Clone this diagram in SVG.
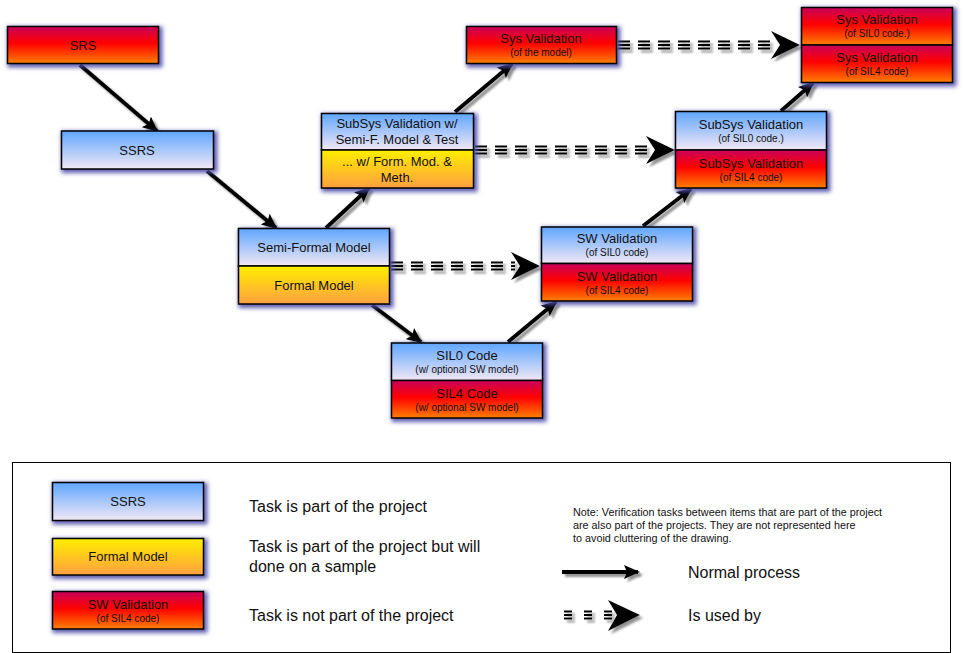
<svg xmlns="http://www.w3.org/2000/svg" width="963" height="653" viewBox="0 0 963 653">
<defs>
<linearGradient id="gBlue" x1="0" y1="0" x2="0" y2="1">
<stop offset="0" stop-color="#5fa6ff"/><stop offset="1" stop-color="#f2e8f4"/>
</linearGradient>
<linearGradient id="gYel" x1="0" y1="0" x2="0" y2="1">
<stop offset="0" stop-color="#ffee00"/><stop offset="1" stop-color="#ffa040"/>
</linearGradient>
<linearGradient id="gRed" x1="0" y1="0" x2="0" y2="1">
<stop offset="0" stop-color="#c8005a"/><stop offset="0.45" stop-color="#ff0000"/><stop offset="1" stop-color="#ff8000"/>
</linearGradient>
<filter id="glow" x="-20%" y="-40%" width="140%" height="180%">
<feMorphology in="SourceAlpha" operator="dilate" radius="2" result="d"/>
<feGaussianBlur in="d" stdDeviation="2" result="b"/>
<feOffset in="b" dx="2" dy="2" result="o"/>
<feFlood flood-color="#4c4ca8" flood-opacity="0.9"/>
<feComposite in2="o" operator="in"/>
</filter>
<filter id="shadow" x="-10%" y="-30%" width="120%" height="160%">
<feDropShadow dx="3" dy="3" stdDeviation="1.2" flood-color="#777" flood-opacity="0.8"/>
</filter>
<marker id="ah" markerUnits="userSpaceOnUse" markerWidth="16" markerHeight="14" refX="14" refY="7" orient="auto">
<path d="M0,0 L16,7 L0,14 L3,7 Z" fill="#000"/>
</marker>
<path id="bigHead" d="M0,0 L-29,-14 L-20,0 L-29,14 Z"/>
<style>
.box{stroke:#000;stroke-width:1.5}
.blue{fill:url(#gBlue)}
.yel{fill:url(#gYel)}
.red{fill:url(#gRed)}
.glowbg{fill:#000;filter:url(#glow)}
text{font-family:"Liberation Sans",Arial,sans-serif;fill:#111;text-anchor:middle}
.t{font-size:13px}
.s{font-size:10px}
.lg{font-size:16px;text-anchor:start}
.note{font-size:10.8px;text-anchor:start}
.sol{stroke:#000;stroke-width:4;fill:none;marker-end:url(#ah)}
.dsh{stroke:#000;stroke-width:2;stroke-dasharray:12 8;fill:none}
</style>
</defs>
<rect width="963" height="653" fill="#fff"/>

<g id="connectors" filter="url(#shadow)">
<line class="sol" x1="80" y1="65" x2="157" y2="131"/>
<line class="sol" x1="207" y1="171" x2="276" y2="228"/>
<line class="sol" x1="326" y1="228" x2="369" y2="188"/>
<line class="sol" x1="455" y1="112" x2="512" y2="64"/>
<line class="sol" x1="372" y1="305" x2="421" y2="342"/>
<line class="sol" x1="508" y1="342" x2="556" y2="302"/>
<line class="sol" x1="643" y1="226" x2="691" y2="189"/>
<line class="sol" x1="781" y1="111" x2="813" y2="83"/>
<g id="dash1">
<path class="dsh" d="M618,41.5 H775 M618,45 H775 M618,48.5 H775"/>
<use href="#bigHead" transform="translate(800,45)"/>
</g>
<g id="dash2">
<path class="dsh" d="M475,146.5 H652 M475,150 H652 M475,153.5 H652"/>
<use href="#bigHead" transform="translate(675,150)"/>
</g>
<g id="dash3">
<path class="dsh" d="M391,262.5 H515 M391,266 H515 M391,269.5 H515"/>
<use href="#bigHead" transform="translate(540,266)"/>
</g>
</g>

<g id="srs">
<rect class="glowbg" x="7.5" y="26.5" width="151" height="37"/>
<rect class="box red" x="7.5" y="26.5" width="151" height="37"/>
<text class="t" x="83" y="50">SRS</text>
</g>
<g id="ssrs">
<rect class="glowbg" x="61.5" y="131" width="152" height="38"/>
<rect class="box blue" x="61.5" y="131" width="152" height="38"/>
<text class="t" x="137" y="155">SSRS</text>
</g>
<g id="model">
<rect class="glowbg" x="238.5" y="228.5" width="151" height="75.5"/>
<rect class="box blue" x="238.5" y="228.5" width="151" height="37.5"/>
<rect class="box yel" x="238.5" y="266" width="151" height="38"/>
<text class="t" x="314" y="252">Semi-Formal Model</text>
<text class="t" x="314" y="290">Formal Model</text>
</g>
<g id="subsysw">
<rect class="glowbg" x="321.5" y="113.5" width="152" height="74.5"/>
<rect class="box blue" x="321.5" y="113.5" width="152" height="36.5"/>
<rect class="box yel" x="321.5" y="150" width="152" height="38"/>
<text class="t" x="397" y="128">SubSys Validation w/</text>
<text class="t" x="397" y="144">Semi-F. Model &amp; Test</text>
<text class="t" x="397" y="166">... w/ Form. Mod. &amp;</text>
<text class="t" x="397" y="182">Meth.</text>
</g>
<g id="sysmodel">
<rect class="glowbg" x="466.5" y="26.5" width="150" height="37"/>
<rect class="box red" x="466.5" y="26.5" width="150" height="37"/>
<text class="t" x="541" y="43">Sys Validation</text>
<text class="s" x="541" y="56">(of the model)</text>
</g>
<g id="code">
<rect class="glowbg" x="391.5" y="343" width="151" height="75"/>
<rect class="box blue" x="391.5" y="343" width="151" height="37.5"/>
<rect class="box red" x="391.5" y="380.5" width="151" height="37.5"/>
<text class="t" x="467" y="360">SIL0 Code</text>
<text class="s" x="467" y="373">(w/ optional SW model)</text>
<text class="t" x="467" y="398">SIL4 Code</text>
<text class="s" x="467" y="411">(w/ optional SW model)</text>
</g>
<g id="swval">
<rect class="glowbg" x="541.5" y="227" width="151" height="74"/>
<rect class="box blue" x="541.5" y="227" width="151" height="36.5"/>
<rect class="box red" x="541.5" y="263.5" width="151" height="37.5"/>
<text class="t" x="617" y="243">SW Validation</text>
<text class="s" x="617" y="256">(of SIL0 code)</text>
<text class="t" x="617" y="281">SW Validation</text>
<text class="s" x="617" y="294">(of SIL4 code)</text>
</g>
<g id="subsysval">
<rect class="glowbg" x="675.5" y="111.5" width="151" height="76.5"/>
<rect class="box blue" x="675.5" y="111.5" width="151" height="38.5"/>
<rect class="box red" x="675.5" y="150" width="151" height="38"/>
<text class="t" x="751" y="129">SubSys Validation</text>
<text class="s" x="751" y="142">(of SIL0 code.)</text>
<text class="t" x="751" y="168">SubSys Validation</text>
<text class="s" x="751" y="181">(of SIL4 code)</text>
</g>
<g id="sysval">
<rect class="glowbg" x="801.5" y="7.5" width="151" height="75"/>
<rect class="box red" x="801.5" y="7.5" width="151" height="37.5"/>
<rect class="box red" x="801.5" y="45" width="151" height="37.5"/>
<text class="t" x="877" y="24">Sys Validation</text>
<text class="s" x="877" y="37">(of SIL0 code.)</text>
<text class="t" x="877" y="62">Sys Validation</text>
<text class="s" x="877" y="75">(of SIL4 code)</text>
</g>

<g id="legend">
<rect x="12.5" y="462.5" width="938" height="190" fill="none" stroke="#000" stroke-width="1"/>
<rect class="glowbg" x="52.5" y="482.5" width="151" height="38"/>
<rect class="box blue" x="52.5" y="482.5" width="151" height="38"/>
<text class="t" x="128" y="506">SSRS</text>
<rect class="glowbg" x="52.5" y="538.5" width="151" height="36.5"/>
<rect class="box yel" x="52.5" y="538.5" width="151" height="36.5"/>
<text class="t" x="128" y="561">Formal Model</text>
<rect class="glowbg" x="52.5" y="591.5" width="151" height="37.5"/>
<rect class="box red" x="52.5" y="591.5" width="151" height="37.5"/>
<text class="t" x="128" y="609">SW Validation</text>
<text class="s" x="128" y="622">(of SIL4 code)</text>
<text class="lg" x="249" y="512">Task is part of the project</text>
<text class="lg" x="249" y="552">Task is part of the project but will</text>
<text class="lg" x="249" y="572">done on a sample</text>
<text class="lg" x="249" y="621">Task is not part of the project</text>
<text class="note" x="573" y="516">Note:  Verification tasks between items that are part of the project</text>
<text class="note" x="573" y="529">are also part of the projects. They are not represented here</text>
<text class="note" x="573" y="542">to avoid cluttering of the drawing.</text>
<g filter="url(#shadow)">
<line class="sol" x1="562" y1="572" x2="638" y2="572"/>
<path class="dsh" style="stroke-dasharray:8 12" d="M564,611.5 H612 M564,615 H612 M564,618.5 H612"/>
<path d="M640,615 L608,600 L617,615 L608,631 Z" fill="#000"/>
</g>
<text class="lg" x="688" y="578">Normal process</text>
<text class="lg" x="688" y="621">Is used by</text>
</g>
</svg>
